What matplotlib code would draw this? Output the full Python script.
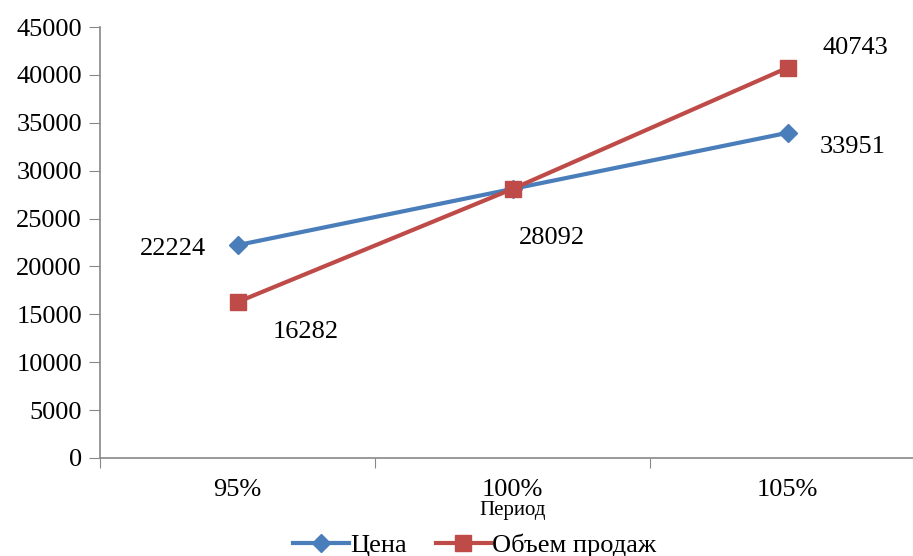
import matplotlib
matplotlib.use("Agg")
import matplotlib.pyplot as plt
from matplotlib.ticker import FixedLocator, NullFormatter

categories = ["95%", "100%", "105%"]
price = [22224, 28092, 33951]
sales = [16282, 28092, 40743]
series_names = ["Цена", "Объем продаж"]
y_ticks = [0, 5000, 10000, 15000, 20000, 25000, 30000, 35000, 40000, 45000]

plt.rcParams['font.family'] = ['Liberation Serif', 'DejaVu Serif']

FS = 19
fig = plt.figure(figsize=(9.13, 5.56), dpi=100)
ax = fig.add_axes([100/913, 98/556, 825/913, 431/556])

x = list(range(len(categories)))
blue = "#4A7EBB"
red = "#BE4B48"
ax.plot(x, price, color=blue, lw=3.0, marker="D", ms=9, mfc=blue, mec=blue, label=series_names[0], zorder=3)
ax.plot(x, sales, color=red, lw=3.0, marker="s", ms=12, mfc=red, mec=red, label=series_names[1], zorder=3)

ax.set_xlim(-0.5, 2.5)
ax.set_ylim(0, 45000)
ax.set_yticks(y_ticks)
ax.set_yticklabels([str(v) for v in y_ticks], fontsize=FS)

ax.xaxis.set_major_locator(FixedLocator([-0.5, 0.5, 1.5, 2.5]))
ax.xaxis.set_major_formatter(NullFormatter())
ax.xaxis.set_minor_locator(FixedLocator(x))
ax.set_xticklabels(categories, minor=True, fontsize=FS)
ax.tick_params(axis='x', which='major', length=7, color="#888888", direction='out')
ax.tick_params(axis='x', which='minor', length=0, pad=15)
ax.tick_params(axis='y', length=8, color="#888888", direction='out', pad=5)

for s in ['top', 'right']:
    ax.spines[s].set_visible(False)
for s in ['left', 'bottom']:
    ax.spines[s].set_color("#888888")
    ax.spines[s].set_linewidth(1.2)

ax.set_xlabel("Период", fontsize=15, labelpad=0)

offsets_price = [(-65, -4), (39, -49), (65, -14)]
offsets_sales = [(68, -30), None, (68, 20)]
for i, v in enumerate(price):
    ax.annotate(str(v), (x[i], v), xytext=offsets_price[i], textcoords='offset pixels',
                ha='center', va='center', fontsize=FS)
for i, v in enumerate(sales):
    if offsets_sales[i] is None:
        continue
    ax.annotate(str(v), (x[i], v), xytext=offsets_sales[i], textcoords='offset pixels',
                ha='center', va='center', fontsize=FS)

fig.legend(loc='lower center', bbox_to_anchor=(0.52, -0.045), ncol=2, frameon=False,
           fontsize=FS, handlelength=2.1, handletextpad=0.05, columnspacing=1.1)

fig.savefig("out.png", dpi=100)
